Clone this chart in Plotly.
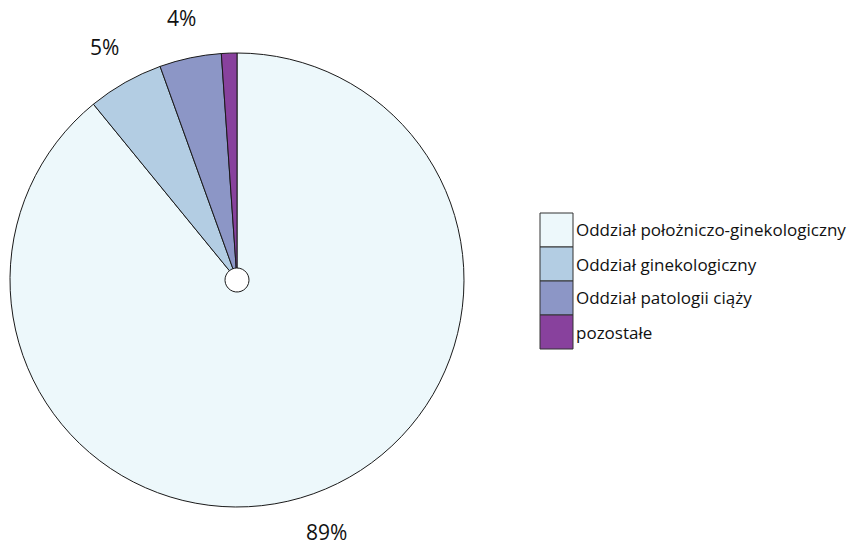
import math
import plotly.graph_objects as go

# Udział hospitalizacji według oddziału (%)
labels = [
    "Oddział położniczo-ginekologiczny",
    "Oddział ginekologiczny",
    "Oddział patologii ciąży",
    "pozostałe",
]
values = [89.1, 5.4, 4.4, 1.1]
colors = ["#edf8fb", "#b3cde3", "#8c96c6", "#88419d"]
show_label = [True, True, True, False]

W, H = 854, 547
FONT = "Open Sans"

# pie geometry in pixels
cx, cy, r = 237, 280, 227
label_dist = r + 41

fig = go.Figure(
    go.Pie(
        labels=labels,
        values=values,
        sort=False,
        direction="clockwise",
        rotation=0,
        hole=12 / r,
        marker=dict(colors=colors, line=dict(color="#1a1a1a", width=1)),
        textinfo="none",
        showlegend=False,
        domain=dict(
            x=[(cx - r) / W, (cx + r) / W],
            y=[1 - (cy + r) / H, 1 - (cy - r) / H],
        ),
        hoverinfo="label+percent",
    )
)

annotations = []

# percentage labels set out beyond the rim, at each slice's mid-angle
total = sum(values)
start = 0.0
for v, s in zip(values, show_label):
    frac = v / total
    mid = (start + frac / 2) * 2 * math.pi  # clockwise from 12 o'clock
    start += frac
    if not s:
        continue
    px = cx + label_dist * math.sin(mid)
    py = cy - label_dist * math.cos(mid)
    annotations.append(
        dict(
            xref="paper",
            yref="paper",
            x=px / W,
            y=1 - py / H,
            xanchor="center",
            yanchor="middle",
            text=f"{round(frac * 100):d}%",
            showarrow=False,
            font=dict(family=FONT, size=21, color="#111111"),
        )
    )

# legend drawn as boxes + text
box_x0, box_x1 = 540, 573
box_top, box_h = 213, 34
shapes = []
for i, (name, col) in enumerate(zip(labels, colors)):
    y0 = box_top + i * box_h
    y1 = y0 + box_h
    shapes.append(
        dict(
            type="rect",
            xref="paper",
            yref="paper",
            x0=box_x0 / W,
            x1=box_x1 / W,
            y0=1 - y1 / H,
            y1=1 - y0 / H,
            fillcolor=col,
            line=dict(color="#333333", width=1),
        )
    )
    annotations.append(
        dict(
            xref="paper",
            yref="paper",
            x=(box_x1 + 1) / W,
            y=1 - (y0 + box_h / 2) / H,
            xanchor="left",
            yanchor="middle",
            text=name,
            showarrow=False,
            font=dict(family=FONT, size=17, color="#111111"),
        )
    )

fig.update_layout(
    width=W,
    height=H,
    margin=dict(l=0, r=0, t=0, b=0),
    paper_bgcolor="white",
    plot_bgcolor="white",
    shapes=shapes,
    annotations=annotations,
)

fig.write_html("out.html")
